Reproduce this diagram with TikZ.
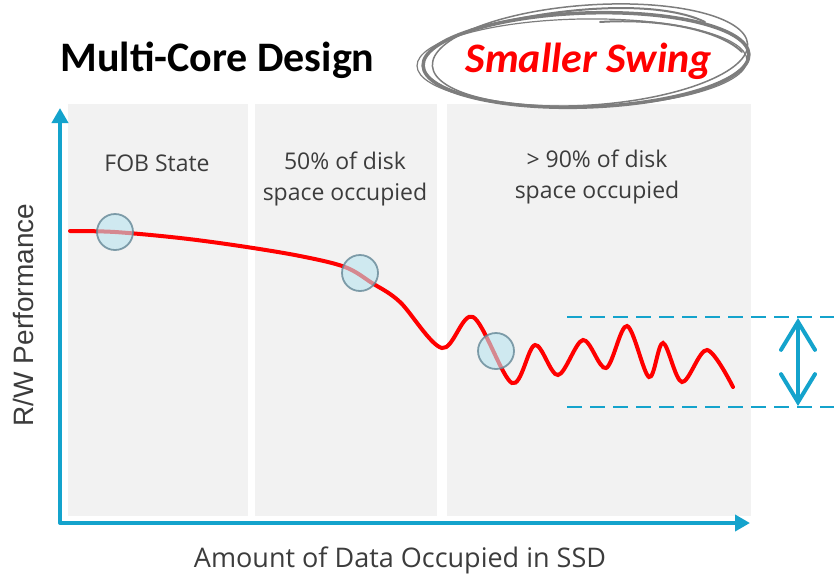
\documentclass[tikz,border=0pt]{standalone}
\usepackage{fontspec}
\setmainfont{Carlito}
\newfontfamily\chartfont{Open Sans}
\newfontfamily\axisfont{Liberation Sans}
\usetikzlibrary{arrows.meta}
\definecolor{axisblue}{RGB}{20,163,204}
\definecolor{panelgray}{RGB}{242,242,242}
\definecolor{labelgray}{RGB}{60,60,60}
\definecolor{ballblue}{RGB}{185,228,240}
\definecolor{ballrim}{RGB}{100,135,150}
\definecolor{scribblegray}{RGB}{125,125,125}
\tikzset{
  panel/.style={fill=panelgray, draw=none},
  statelabel/.style={font=\chartfont\fontsize{23}{31}\selectfont, text=labelgray, align=center},
  axislabel/.style={font=\axisfont\fontsize{28}{30}\selectfont, text=labelgray},
  marker/.style={circle, minimum size=36pt, inner sep=0pt, fill=ballblue, fill opacity=0.6,
    draw=ballrim, draw opacity=0.8, line width=1.8pt},
  axisline/.style={axisblue, line width=4pt, line join=round},
  swingline/.style={axisblue, line width=2.5pt, dash pattern=on 15pt off 8pt},
  scribble/.style={scribblegray, line cap=round},
}
\begin{document}
\begin{tikzpicture}[x=1pt, y=-1pt, >={Triangle[length=15pt, width=16pt]}]
    \useasboundingbox (0,0) rectangle (834,574);
    % 灰色分区
    \fill[panel] (68,104) rectangle (248,516);
    \fill[panel] (255,104) rectangle (437,516);
    \fill[panel] (447,104) rectangle (751,516);
    % 标题
    \node[anchor=base west, font=\bfseries\fontsize{42}{50}\selectfont] (title) at (57,71) {Multi-Core Design};
    \node[anchor=base west, font=\bfseries\itshape\fontsize{42}{50}\selectfont, text=red] (swing) at (462,72) {Smaller Swing};
    % 手绘椭圆
    \draw[scribble, line width=3.5pt] (586,60) ellipse [x radius=163, y radius=47, rotate=2];
    \draw[scribble, line width=1.5pt] (590,55) ellipse [x radius=158, y radius=50, rotate=4];
    \draw[scribble, line width=1.2pt] (582,63) ellipse [x radius=165, y radius=44, rotate=1];
    \draw[scribble, line width=2pt] (470,30) .. controls (560,5) and (660,0) .. (705,22);
    \draw[scribble, line width=2pt] (600,22) .. controls (660,18) and (720,30) .. (742,52);
    % 坐标轴
    \coordinate (O) at (60,523);
    \coordinate (xend) at (750,523);
    \coordinate (yend) at (60,108);
    \draw[axisline, <->] (yend) |- (xend);
    \node[axislabel, rotate=90, anchor=base] (ylab) at (33,315) {R/W Performance};
    \node[anchor=base, font=\chartfont\fontsize{27}{30}\selectfont, text=labelgray] (xlab) at (400,567) {Amount of Data Occupied in SSD};
    % 分区说明
    \node[statelabel] (fob) at (157,163) {FOB State};
    \node[statelabel] (half) at (345,179) {50\% of disk\\space occupied};
    \node[statelabel] (full) at (597,177) {> 90\% of disk\\space occupied};
    % 性能曲线
    \draw[red, line width=4pt, line cap=round] plot[smooth, tension=0.55] coordinates {
      (70,231) (115,232) (180,238) (240,246) (300,256) (345,267) (372,283) (400,302)
      (442,348) (473,317) (512,383) (535,345) (558,375) (583,340) (606,368)
      (627,326) (649,377) (663,343) (682,382) (707,350) (733,387)};
    % 标记点
    \node[marker] (p1) at (115,232) {};
    \node[marker] (p2) at (360,273) {};
    \node[marker] (p3) at (496,351) {};
    % 波动范围
    \coordinate (ta) at (567,317);
    \coordinate (tb) at (834,317);
    \coordinate (ba) at (567,407);
    \coordinate (bb) at (834,407);
    \draw[swingline] (ta) -- (tb);
    \draw[swingline] (ba) -- (bb);
    \coordinate (up) at (798,318);
    \coordinate (dn) at (798,406);
    \draw[axisblue, line width=4pt, {Straight Barb[length=28pt, width=34pt, line cap=round]}-{Straight Barb[length=28pt, width=34pt, line cap=round]}] (up) -- (dn);
\end{tikzpicture}
\end{document}
